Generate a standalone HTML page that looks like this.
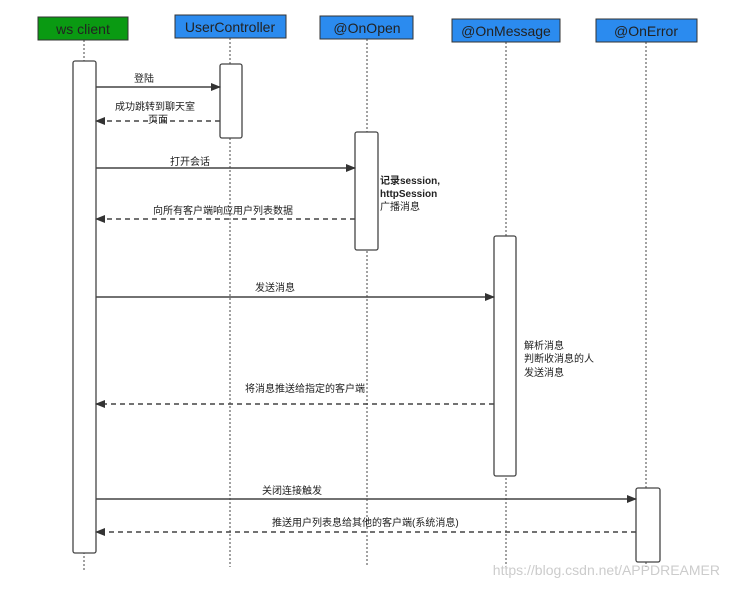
<!DOCTYPE html>
<html><head><meta charset="utf-8"><style>
body{margin:0;background:#fff;width:730px;height:586px;overflow:hidden}
svg text{font-family:"Liberation Sans","Noto Sans CJK SC",sans-serif}
</style></head><body>
<svg width="730" height="586" xmlns="http://www.w3.org/2000/svg">
<defs><marker id="a" markerWidth="10" markerHeight="8" refX="9" refY="4" orient="auto" markerUnits="userSpaceOnUse"><path d="M0,0 L10,4 L0,8z" fill="#333"/></marker></defs>
<g stroke="#444" stroke-width="1" stroke-dasharray="2,2">
<line x1="84" y1="40" x2="84" y2="570"/>
<line x1="230" y1="38" x2="230" y2="567"/>
<line x1="367" y1="39" x2="367" y2="567"/>
<line x1="506" y1="42" x2="506" y2="567"/>
<line x1="646" y1="42" x2="646" y2="567"/>
</g>
<rect x="38" y="17" width="90" height="23" fill="#0a9a12" stroke="#333"/>
<text x="83" y="34" font-size="14" text-anchor="middle" fill="#222">ws client</text>
<rect x="175" y="15" width="111" height="23" fill="#2b8bef" stroke="#333"/>
<text x="230" y="32" font-size="14" text-anchor="middle" fill="#222">UserController</text>
<rect x="320" y="16" width="93" height="23" fill="#2b8bef" stroke="#333"/>
<text x="367" y="33" font-size="14" text-anchor="middle" fill="#222">@OnOpen</text>
<rect x="452" y="19" width="108" height="23" fill="#2b8bef" stroke="#333"/>
<text x="506" y="36" font-size="14" text-anchor="middle" fill="#222">@OnMessage</text>
<rect x="596" y="19" width="101" height="23" fill="#2b8bef" stroke="#333"/>
<text x="646" y="36" font-size="14" text-anchor="middle" fill="#222">@OnError</text>
<g fill="#fff" stroke="#444" stroke-width="1.3">
<rect x="73" y="61" width="23" height="492" rx="2"/>
<rect x="220" y="64" width="22" height="74" rx="2"/>
<rect x="355" y="132" width="23" height="118" rx="2"/>
<rect x="494" y="236" width="22" height="240" rx="2"/>
<rect x="636" y="488" width="24" height="74" rx="2"/>
</g>
<g stroke="#444" stroke-width="1.4" fill="none">
<line x1="96" y1="87" x2="220" y2="87" marker-end="url(#a)"/>
<line x1="220" y1="121" x2="96" y2="121" stroke-dasharray="5,4" marker-end="url(#a)"/>
<line x1="96" y1="168" x2="355" y2="168" marker-end="url(#a)"/>
<line x1="355" y1="219" x2="96" y2="219" stroke-dasharray="5,4" marker-end="url(#a)"/>
<line x1="96" y1="297" x2="494" y2="297" marker-end="url(#a)"/>
<line x1="494" y1="404" x2="96" y2="404" stroke-dasharray="5,4" marker-end="url(#a)"/>
<line x1="96" y1="499" x2="636" y2="499" marker-end="url(#a)"/>
<line x1="636" y1="532" x2="96" y2="532" stroke-dasharray="5,4" marker-end="url(#a)"/>
</g>
<g font-size="10" fill="#222">
<text x="134" y="82">登陆</text>
<text x="115" y="110">成功跳转到聊天室</text>
<text x="148" y="123">页面</text>
<text x="170" y="165">打开会话</text>
<text x="153" y="214">向所有客户端响应用户列表数据</text>
<text x="255" y="291">发送消息</text>
<text x="245" y="392">将消息推送给指定的客户端</text>
<text x="262" y="494">关闭连接触发</text>
<text x="272" y="526">推送用户列表息给其他的客户端(系统消息)</text>
<text x="380" y="184" font-weight="bold">记录session,</text>
<text x="380" y="197" font-weight="bold">httpSession</text>
<text x="380" y="210">广播消息</text>
<text x="524" y="349">解析消息</text>
<text x="524" y="362">判断收消息的人</text>
<text x="524" y="376">发送消息</text>
</g>
<text x="720" y="575" font-size="14" fill="#ccc" text-anchor="end">https://blog.csdn.net/APPDREAMER</text>
</svg>
</body></html>
